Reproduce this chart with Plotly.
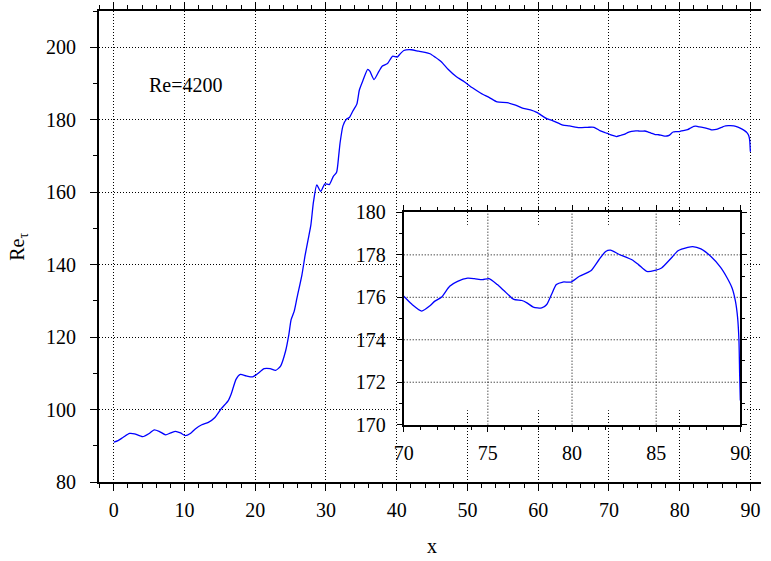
import plotly.graph_objects as go

# ---- data ----
x_vals = [0.0, 0.6, 1.3, 2.23, 2.92, 4.08, 5.01, 5.71, 6.41, 7.33, 8.04, 8.73, 9.43, 10.12,
          10.82, 11.52, 12.44, 13.37, 14.3, 15.22, 16.16, 16.6, 17.3, 17.9, 18.7, 19.64,
          20.33, 21.27, 22.1, 22.88, 23.58, 24.28, 24.75, 25.07, 25.5, 25.9, 26.6, 27.06,
          27.5, 27.86, 28.23, 28.7, 29.25, 29.85, 30.46, 31.02, 31.5, 31.8, 32.0, 32.4,
          32.87, 33.3, 33.8, 34.36, 34.72, 35.2, 35.9, 36.2, 36.8, 37.5, 37.97, 38.7,
          39.4, 40.07, 40.5, 41.0, 42.06, 43.1, 44.0, 44.7, 45.4, 46.3, 47.26, 48.4,
          49.6, 50.7, 51.9, 53.1, 54.2, 55.6, 56.8, 57.9, 58.9, 59.8, 61.2, 62.1, 63.5,
          64.4, 65.8, 67.0, 67.9, 68.8, 69.5,
          70.0, 70.5, 71.07, 71.56, 71.85, 72.24, 72.73, 73.2, 73.8, 74.2, 74.68, 75.07,
          75.56, 75.95, 76.54, 77.02, 77.32, 77.7, 78.2, 78.5, 78.78, 79.07, 79.46, 79.95,
          80.44, 81.12, 81.6, 82.0, 82.29, 82.78, 83.56, 83.95, 84.44, 84.93, 85.32, 85.9,
          86.3, 86.88, 87.17, 87.66, 88.24, 88.83, 89.22, 89.51, 89.71, 89.84, 89.92,
          89.96, 90.0]
y_vals = [91.0, 91.44, 92.3, 93.4, 93.3, 92.5, 93.4, 94.4, 94.0, 93.0, 93.55, 94.0, 93.55, 92.8,
          93.4, 94.65, 95.8, 96.45, 97.8, 100.3, 102.4, 104.3, 108.4, 109.7, 109.3, 109.0,
          109.9, 111.3, 111.3, 110.8, 112.0, 116.1, 120.7, 124.8, 127.1, 130.8, 137.2, 142.7,
          147.2, 150.9, 157.3, 162.0, 160.2, 162.3, 162.1, 164.3, 165.5, 170.1, 173.7, 178.3,
          180.1, 180.6, 182.4, 184.3, 188.2, 190.7, 193.9, 193.4, 191.1, 193.4, 194.8, 195.5,
          197.5, 197.3, 198.2, 199.1, 199.3, 198.9, 198.6, 198.2, 197.3, 196.0, 193.9, 191.9,
          190.4, 188.8, 187.3, 186.1, 184.9, 184.7, 184.0, 183.1, 182.7, 182.0, 180.3, 179.7, 178.5,
          178.3, 177.8, 177.9, 177.9, 176.9, 176.4,
          176.05, 175.66, 175.35, 175.6, 175.82, 176.0, 176.52, 176.75, 176.9, 176.88, 176.83, 176.88,
          176.6, 176.32, 175.9, 175.85, 175.74, 175.54, 175.5, 175.66, 176.13, 176.6, 176.72, 176.72,
          176.99, 177.25, 177.77, 178.16, 178.22, 178.03, 177.77, 177.54, 177.22, 177.27, 177.38, 177.85,
          178.19, 178.35, 178.39, 178.28, 177.93, 177.41, 176.91, 176.44, 175.82, 175.04, 173.95,
          172.39, 171.14]

main_xticks = [0, 10, 20, 30, 40, 50, 60, 70, 80, 90]
main_yticks = [80, 100, 120, 140, 160, 180, 200]
inset_xticks = [70, 75, 80, 85, 90]
inset_yticks = [170, 172, 174, 176, 178, 180]

FONT = "Liberation Serif, Times New Roman, serif"
GRID_DASH = "1px,2px"
LINE_COLOR = "#0000ff"

MAIN_XR = [-2.09, 91.5]
MAIN_YR = [80, 210]
INSET_XD = [0.4603, 0.96875]
INSET_YD = [0.1217, 0.5724]

fig = go.Figure()

# inset grid, built from the inset tick lists
gx, gy = [], []
for t in inset_xticks[1:-1]:
    gx += [t, t, None]
    gy += [inset_yticks[0], inset_yticks[-1], None]
for t in inset_yticks[1:-1]:
    gx += [inset_xticks[0], inset_xticks[-1], None]
    gy += [t, t, None]
fig.add_trace(go.Scatter(x=gx, y=gy, mode="lines", xaxis="x2", yaxis="y2",
                         line=dict(color="black", width=1, dash=GRID_DASH),
                         showlegend=False, hoverinfo="skip", connectgaps=False))

fig.add_trace(go.Scatter(x=x_vals, y=y_vals, mode="lines",
                         line=dict(color=LINE_COLOR, width=1.3, shape="spline", smoothing=0.6),
                         xaxis="x", yaxis="y", showlegend=False, hoverinfo="skip"))
fig.add_trace(go.Scatter(x=x_vals, y=y_vals, mode="lines",
                         line=dict(color=LINE_COLOR, width=1.3, shape="spline", smoothing=0.6),
                         xaxis="x2", yaxis="y2", showlegend=False, hoverinfo="skip"))

axis_common = dict(showline=True, linecolor="black", linewidth=2, ticks="outside",
                   tickcolor="black", tickwidth=1, gridcolor="black",
                   gridwidth=1, griddash=GRID_DASH, zeroline=False,
                   tickfont=dict(family=FONT, size=20, color="black"))

# white patch over the main grid behind the inset (gnuplot leaves thin strips at top/bottom)
def _lerp(r, f):
    return r[0] + f * (r[1] - r[0])

inset_h = INSET_YD[1] - INSET_YD[0]
clear_rect = dict(type="rect", xref="x", yref="y", layer="between",
                  x0=_lerp(MAIN_XR, INSET_XD[0]), x1=_lerp(MAIN_XR, INSET_XD[1]),
                  y0=_lerp(MAIN_YR, INSET_YD[0] + 0.068 * inset_h),
                  y1=_lerp(MAIN_YR, INSET_YD[1] - 0.058 * inset_h),
                  fillcolor="white", line=dict(width=0))

fig.update_layout(
    width=771, height=561,
    margin=dict(l=99, r=0, t=8, b=79),
    paper_bgcolor="white", plot_bgcolor="rgba(0,0,0,0)",
    font=dict(family=FONT, size=20, color="black"),
    xaxis=dict(domain=[0, 1], range=MAIN_XR, tickvals=main_xticks, ticklen=7, showgrid=True,
               mirror="ticks", minor=dict(dtick=2, tick0=0, ticklen=4, ticks="outside",
                                           tickcolor="black", showgrid=False),
               ticklabelstandoff=2, anchor="y", **axis_common),
    yaxis=dict(domain=[0, 1], range=MAIN_YR, tickvals=main_yticks, ticklen=7, showgrid=True,
               minor=dict(dtick=10, tick0=80, ticklen=4, ticks="outside",
                          tickcolor="black", showgrid=False),
               ticklabelstandoff=10, anchor="x", **axis_common),
    xaxis2=dict(domain=INSET_XD, range=[70, 90], tickvals=inset_xticks, ticklen=5, showgrid=False,
                mirror="allticks", minor=dict(dtick=1, tick0=70, ticklen=3, ticks="outside",
                                                tickcolor="black", showgrid=False),
                ticklabelstandoff=4, anchor="y2", **axis_common),
    yaxis2=dict(domain=INSET_YD, range=[170, 180], tickvals=inset_yticks, ticklen=5, showgrid=False,
                mirror="allticks", minor=dict(dtick=1, tick0=170, ticklen=3, ticks="outside",
                                                tickcolor="black", showgrid=False),
                ticklabelstandoff=7, anchor="x2", **axis_common),
    shapes=[clear_rect],
    annotations=[
        dict(text="Re=4200", xref="paper", yref="paper", x=(187 - 99) / 672, y=(482 - 82) / 474,
             xanchor="center", yanchor="middle", showarrow=False,
             font=dict(family=FONT, size=20, color="black")),
        dict(text="x", xref="paper", yref="paper", x=(437 - 99) / 672, y=(482 - 546) / 474,
             xanchor="center", yanchor="middle", showarrow=False,
             font=dict(family=FONT, size=20, color="black")),
        dict(text="Re<sub>τ</sub>", xref="paper", yref="paper", x=(17 - 99) / 672, y=0.5,
             xanchor="center", yanchor="middle", textangle=-90, showarrow=False,
             font=dict(family=FONT, size=20, color="black")),
    ],
)

fig.write_html("out.html")
